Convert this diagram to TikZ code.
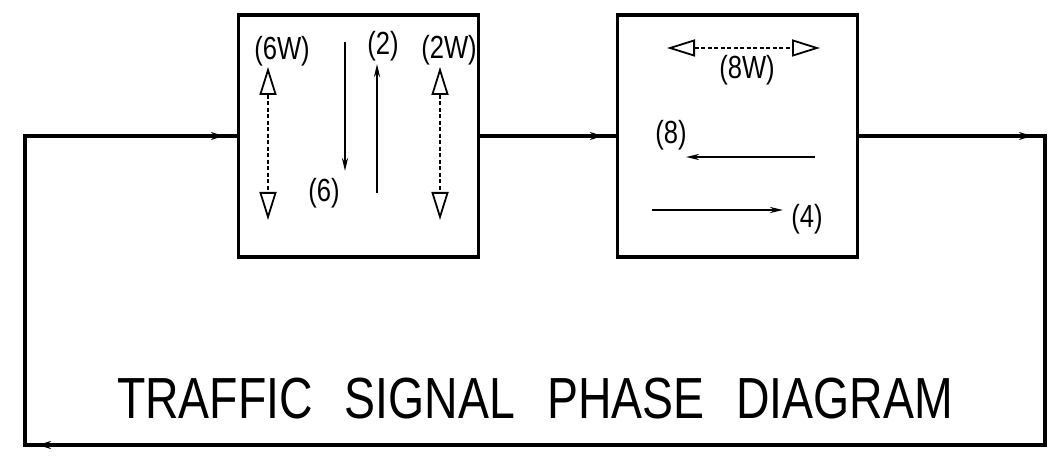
\documentclass[tikz,border=0pt]{standalone}
\usepackage{fontspec}
\setmainfont{Liberation Sans}
\newfontfamily\cadfont[FakeStretch=0.8]{Liberation Sans}
\usetikzlibrary{arrows.meta,decorations.markings}
\begin{document}
\begin{tikzpicture}[x=1pt,y=-1pt,
  phasebox/.style={draw, line width=3.2pt, inner sep=0pt, minimum width=240pt, minimum height=242pt},
  loopline/.style={line width=3.2pt, line join=miter},
  flowmark/.style={postaction=decorate, decoration={markings, mark=at position -13pt with {\arrow{Stealth[length=13pt,width=8pt]}}}},
  lbl/.style={font=\cadfont\fontsize{32}{32}\selectfont, inner sep=0pt},
  title/.style={font=\cadfont\fontsize{58}{58}\selectfont, inner sep=0pt},
  mov/.style={line width=2.2pt, -{Stealth[length=13pt,width=6pt]}},
  opentip/.tip={Triangle[open,length=28pt,width=17pt,line width=1.8pt]},
  ped/.style={line width=1.8pt, dash pattern=on 4pt off 2.5pt, opentip-opentip}
]
\useasboundingbox (0,0) rectangle (1052,465);
% phase boxes
\node[phasebox] (b1) at (358.5,136) {};
\node[phasebox] (b2) at (737.5,136) {};
% loop corners
\coordinate (tr) at (1045,136);
\coordinate (br) at (1045,445);
\coordinate (bl) at (25,445);
\coordinate (tl) at (25,136);
\draw[loopline] (b2.east) -- (tr) -- (br) -- (bl) -- (tl) -- (b1.west);
\draw[loopline, flowmark] (b1.east) -- (b2.west);
\draw[loopline, flowmark] (b2.east) -- (tr);
\draw[loopline, flowmark] (br) -- (bl);
\draw[loopline, flowmark] (tl) -- (b1.west);
% phase 1 movements
\draw[ped] (268,67) -- (268,220);
\draw[ped] (440,67) -- (440,220);
\draw[mov] (345,42) -- (345,171);
\draw[mov] (377,193) -- (377,64);
\node[lbl] (l6w) at (282,51) {(6W)};
\node[lbl] (l2) at (383,46) {(2)};
\node[lbl] (l2w) at (449,50) {(2W)};
\node[lbl] (l6) at (324,193) {(6)};
% phase 2 movements
\draw[ped] (667,48) -- (820,48);
\draw[mov] (815,157) -- (686,157);
\draw[mov] (652,210) -- (783,210);
\node[lbl] (l8w) at (747,70) {(8W)};
\node[lbl] (l8) at (671,135) {(8)};
\node[lbl] (l4) at (807,219) {(4)};
% title
\node[title] (t) at (535,399) {TRAFFIC\hspace{32pt}SIGNAL\hspace{32pt}PHASE\hspace{32pt}DIAGRAM};
\end{tikzpicture}
\end{document}
